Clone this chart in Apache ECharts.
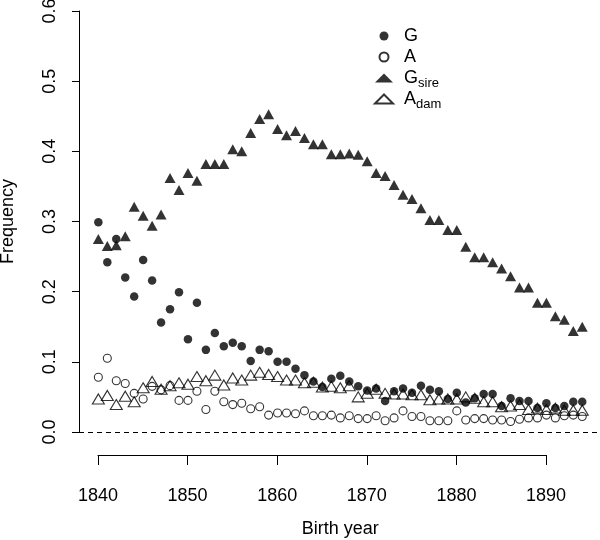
<!DOCTYPE html>
<html>
<head>
<meta charset="utf-8">
<script src="https://cdn.jsdelivr.net/npm/echarts@6/dist/echarts.min.js"></script>
<style>
html,body{margin:0;padding:0;background:#fff;}
#chart{width:600px;height:540px;}
</style>
</head>
<body>
<div id="chart"></div>
<script>
var years = [1840,1841,1842,1843,1844,1845,1846,1847,1848,1849,
             1850,1851,1852,1853,1854,1855,1856,1857,1858,1859,
             1860,1861,1862,1863,1864,1865,1866,1867,1868,1869,
             1870,1871,1872,1873,1874,1875,1876,1877,1878,1879,
             1880,1881,1882,1883,1884,1885,1886,1887,1888,1889,
             1890,1891,1892,1893,1894];

var seriesNames = ['G', 'A', 'Gsire', 'Adam'];

var G = [0.299,0.242,0.275,0.220,0.193,0.245,0.216,0.156,0.175,0.199,
         0.132,0.184,0.117,0.141,0.122,0.127,0.122,0.101,0.117,0.115,
         0.100,0.100,0.090,0.081,0.072,0.064,0.076,0.080,0.072,0.065,
         0.059,0.062,0.044,0.058,0.062,0.056,0.066,0.060,0.058,0.047,
         0.056,0.042,0.048,0.054,0.054,0.037,0.048,0.044,0.044,0.034,
         0.041,0.034,0.037,0.043,0.043];

var A = [0.078,0.105,0.073,0.069,0.055,0.047,0.065,0.060,0.066,0.045,
         0.045,0.058,0.032,0.058,0.043,0.039,0.041,0.033,0.036,0.024,
         0.027,0.027,0.026,0.030,0.023,0.023,0.024,0.020,0.023,0.019,
         0.019,0.023,0.016,0.020,0.030,0.022,0.022,0.016,0.016,0.016,
         0.030,0.017,0.019,0.019,0.017,0.017,0.015,0.018,0.020,0.020,
         0.024,0.020,0.023,0.024,0.022];

var Gsire = [0.275,0.265,0.266,0.279,0.321,0.308,0.294,0.310,0.362,0.345,
             0.369,0.358,0.382,0.382,0.382,0.403,0.400,0.426,0.446,0.453,
             0.432,0.423,0.429,0.419,0.410,0.410,0.396,0.396,0.397,0.395,
             0.386,0.369,0.365,0.352,0.338,0.332,0.319,0.302,0.302,0.288,
             0.288,0.264,0.249,0.249,0.242,0.233,0.222,0.206,0.206,0.184,
             0.184,0.165,0.160,0.144,0.150];

var Adam = [0.047,0.052,0.039,0.051,0.043,0.063,0.072,0.061,0.066,0.070,
            0.068,0.079,0.073,0.081,0.067,0.077,0.074,0.081,0.085,0.082,
            0.079,0.074,0.074,0.070,0.071,0.064,0.065,0.063,0.066,0.050,
            0.055,0.061,0.055,0.054,0.054,0.053,0.053,0.046,0.047,0.047,
            0.047,0.050,0.048,0.043,0.043,0.036,0.037,0.039,0.032,0.034,
            0.032,0.034,0.031,0.031,0.031];

var xTicks = [1840, 1850, 1860, 1870, 1880, 1890];
var yTicks = [0.0, 0.1, 0.2, 0.3, 0.4, 0.5, 0.6];

function pairs(vals) {
  var out = [];
  for (var i = 0; i < years.length; i++) out.push([years[i], vals[i]]);
  return out;
}

var FONT = 'Liberation Sans, Arial, sans-serif';
var chart = echarts.init(document.getElementById('chart'), null, {renderer: 'canvas'});

var legendRich = {
  b: {fontSize: 18, fontFamily: FONT, color: '#000', height: 22, lineHeight: 22, padding: [0, 0, 0, 6]},
  s: {fontSize: 13, fontFamily: FONT, color: '#000', height: 12, lineHeight: 12, padding: [10, 0, 0, 0]}
};

var option = {
  animation: false,
  backgroundColor: '#fff',
  textStyle: {fontFamily: FONT, color: '#000'},
  grid: [
    {left: 79, top: 0, width: 522.6, height: 453, containLabel: false, outerBoundsMode: 'none'},
    {left: 79, top: 11, width: 1, height: 421, containLabel: false, outerBoundsMode: 'none'},
    {left: 98, top: 454, width: 448, height: 1, containLabel: false, outerBoundsMode: 'none'}
  ],
  xAxis: [
    {gridIndex: 0, type: 'value', min: 1837.84, max: 1896.16,
     axisLine: {show: false}, axisTick: {show: false}, axisLabel: {show: false}, splitLine: {show: false},
     name: 'Birth year', nameLocation: 'middle', nameGap: 67, nameMoveOverlap: false,
     nameTextStyle: {fontSize: 18, fontFamily: FONT, color: '#000'}},
    {gridIndex: 1, type: 'value', show: false, min: 0, max: 1},
    {gridIndex: 2, type: 'value', min: xTicks[0], max: xTicks[xTicks.length - 1], interval: 10,
     position: 'bottom',
     axisLine: {show: true, lineStyle: {color: '#000', width: 1}},
     axisTick: {show: true, length: 10, lineStyle: {color: '#000', width: 1}},
     axisLabel: {show: true, margin: 32, fontSize: 18, fontFamily: FONT, color: '#000',
                 formatter: function (v) { return String(v); },
                 showMinLabel: true, showMaxLabel: true},
     splitLine: {show: false}}
  ],
  yAxis: [
    {gridIndex: 0, type: 'value', min: -0.03, max: 0.6157, show: false},
    {gridIndex: 1, type: 'value', min: yTicks[0], max: yTicks[yTicks.length - 1], interval: 0.1,
     position: 'left',
     axisLine: {show: true, lineStyle: {color: '#000', width: 1}},
     axisTick: {show: true, length: 7, lineStyle: {color: '#000', width: 1}},
     axisLabel: {show: true, rotate: 90, margin: 20, fontSize: 18, fontFamily: FONT, color: '#000',
                 formatter: function (v) { return v.toFixed(1); }, showMinLabel: true, showMaxLabel: true},
     splitLine: {show: false},
     name: 'Frequency', nameLocation: 'middle', nameRotate: 90, nameGap: 62, nameMoveOverlap: false,
     nameTextStyle: {fontSize: 18, fontFamily: FONT, color: '#000'}},
    {gridIndex: 2, type: 'value', show: false, min: 0, max: 1}
  ],
  legend: {
    orient: 'vertical', left: 369, top: 20, itemWidth: 18, itemHeight: 9, itemGap: -1.5,
    data: seriesNames,
    formatter: function (name) {
      if (name === 'Gsire') return '{b|G}{s|sire}';
      if (name === 'Adam') return '{b|A}{s|dam}';
      return '{b|' + name + '}{s| }';
    },
    textStyle: {rich: legendRich, fontSize: 18, color: '#000'}
  },
  series: [
    {name: 'G', type: 'scatter', xAxisIndex: 0, yAxisIndex: 0, data: pairs(G),
     symbol: 'circle', symbolSize: 8.5, z: 2,
     itemStyle: {color: '#000', borderWidth: 0},
     markLine: {silent: true, symbol: ['none', 'none'], label: {show: false},
                lineStyle: {color: '#000', type: [5, 4], width: 1.2},
                data: [{yAxis: 0}]}},
    {name: 'A', type: 'scatter', xAxisIndex: 0, yAxisIndex: 0, data: pairs(A),
     symbol: 'circle', symbolSize: 8, z: 3,
     itemStyle: {color: 'rgba(0,0,0,0)', borderColor: '#000', borderWidth: 1.1}},
    {name: 'Gsire', type: 'scatter', xAxisIndex: 0, yAxisIndex: 0, data: pairs(Gsire),
     symbol: 'triangle', symbolSize: [11, 10], z: 4,
     itemStyle: {color: '#000', borderWidth: 0}},
    {name: 'Adam', type: 'scatter', xAxisIndex: 0, yAxisIndex: 0, data: pairs(Adam),
     symbol: 'triangle', symbolSize: [12, 10], z: 5,
     itemStyle: {color: 'rgba(0,0,0,0)', borderColor: '#000', borderWidth: 1.1}}
  ]
};
chart.setOption(option);
</script>
</body>
</html>
